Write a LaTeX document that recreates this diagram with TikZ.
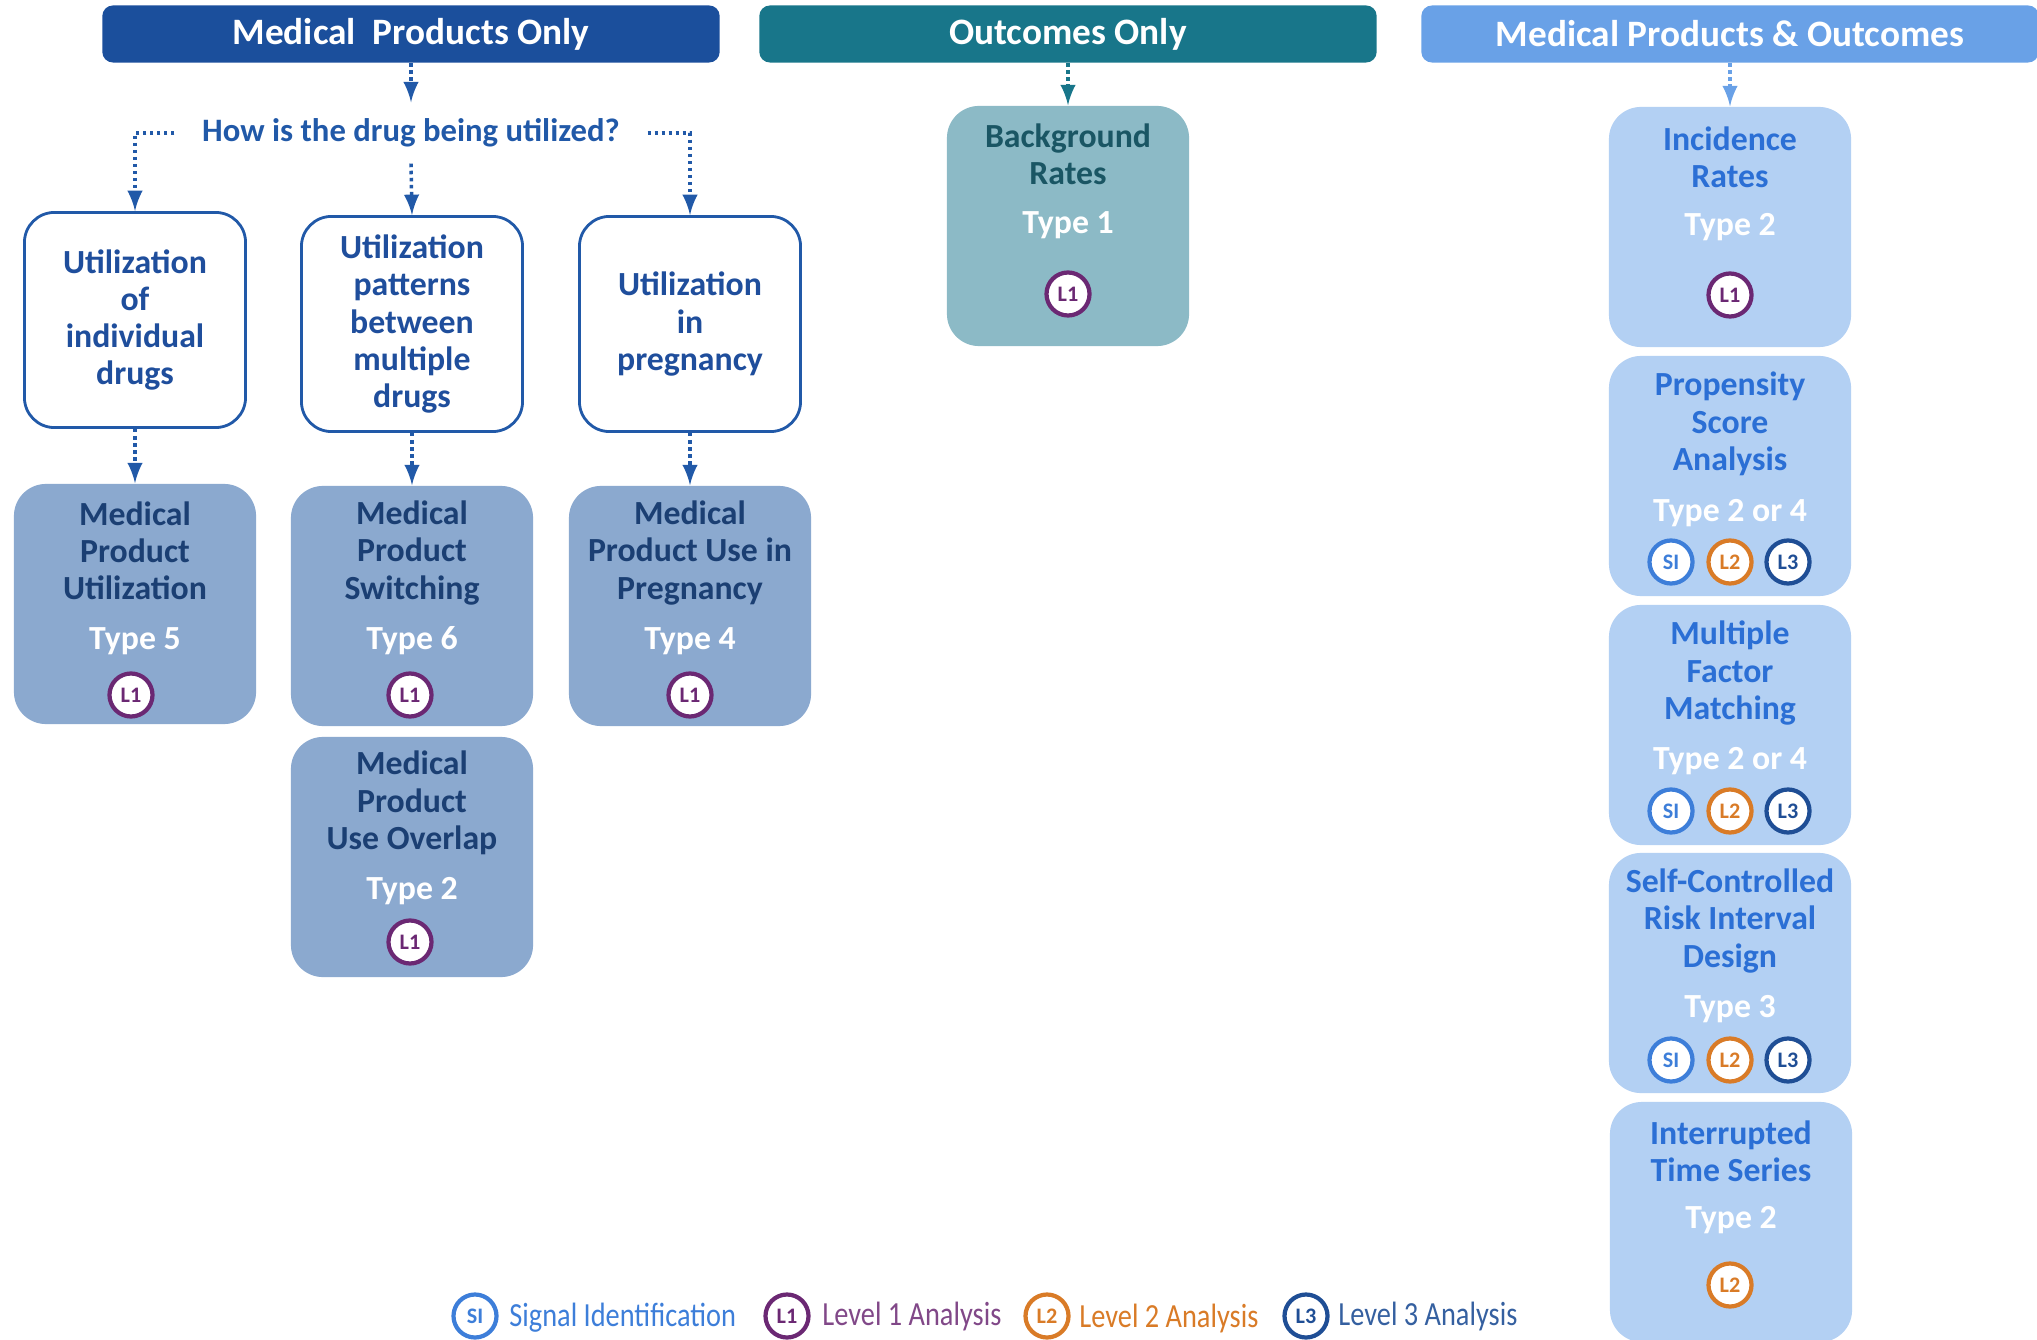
\documentclass[tikz,border=0pt]{standalone}
\usepackage{fontspec}
\setmainfont{Carlito}
\newfontfamily\legfont{Carlito}[FakeStretch=0.84]
\usepackage{xcolor}
\usetikzlibrary{arrows,positioning,shapes,calc}
\definecolor{hdrone}{HTML}{1B4F9C}
\definecolor{hdrtwo}{HTML}{18768A}
\definecolor{hdrthree}{HTML}{69A1E7}
\definecolor{qblue}{HTML}{2159A8}
\definecolor{wtext}{HTML}{1F4E9C}
\definecolor{cfill}{HTML}{8BA9CF}
\definecolor{ctext}{HTML}{1B3F73}
\definecolor{dfill}{HTML}{8CBAC6}
\definecolor{dtext}{HTML}{1A5664}
\definecolor{efill}{HTML}{B3D0F3}
\definecolor{etext}{HTML}{2B6FD5}
\definecolor{sicol}{HTML}{3D7ED9}
\definecolor{lonecol}{HTML}{6B2873}
\definecolor{ltwocol}{HTML}{D97B27}
\definecolor{lthreecol}{HTML}{1F4E95}

\begin{document}
\begin{tikzpicture}[x = 0.01cm, y = -0.01cm, every node/.style={anchor = center},
  hdr/.style={rounded corners = 3pt, minimum width = 6.17cm, minimum height = 0.57cm, text = white, font = \fontsize{10.6}{12}\selectfont\bfseries},
  darr/.style={-latex, densely dotted, line width = 1pt, draw = qblue},
  wbox/.style={draw = qblue, line width = 0.8pt, fill = white, rounded corners = 0.3cm, minimum width = 2.21cm, minimum height = 2.15cm, align = center, text = wtext, font = \fontsize{9.6}{10.6}\selectfont\bfseries},
  tbox/.style={rounded corners = 0.32cm, minimum width = 2.42cm, minimum height = 2.4cm},
  ttl/.style={align = center, font = \fontsize{9.6}{10.6}\selectfont\bfseries},
  typ/.style={text = white, font = \fontsize{9.6}{10.6}\selectfont\bfseries},
  badge/.style={circle, fill = white, line width = 1.2pt, minimum size = 0.43cm, inner sep = 0pt, font = \fontsize{6.3}{6.3}\selectfont\bfseries},
  bsi/.style={badge, draw = sicol, text = sicol},
  bone/.style={badge, draw = lonecol, text = lonecol},
  btwo/.style={badge, draw = ltwocol, text = ltwocol},
  bthree/.style={badge, draw = lthreecol, text = lthreecol},
  leg/.style={anchor = west, font = \legfont\fontsize{9.6}{11}\selectfont}]
\useasboundingbox (0,0) rectangle (2037,1340);

\node[hdr, fill = hdrone] (mpo) at (411,34) {Medical\ \ Products Only};
\node[hdr, fill = hdrtwo] (oo) at (1068,34) {Outcomes Only};
\node[hdr, fill = hdrthree] (mpao) at (1730,34) {Medical Products \& Outcomes};

\node[text = qblue, font = \fontsize{9.3}{11}\selectfont\bfseries, minimum height = 0.6cm, inner xsep = 0.27cm] (how) at (411,133) {How is the drug being utilized?};

\node[wbox] (indiv) at (135,320) {Utilization\\of\\individual\\drugs};
\node[wbox] (multi) at (412,324) {Utilization\\patterns\\between\\multiple\\drugs};
\node[wbox] (preg) at (690,324) {Utilization\\in\\pregnancy};

\node[tbox, fill = cfill] (util) at (135,604) {};
\node[ttl, text = ctext] (utilt) at (135,551) {Medical\\Product\\Utilization};
\node[typ] (utilty) at (135,641) {Type 5};
\node[bone] (utilb) at (131,695) {L1};

\node[tbox, fill = cfill] (switch) at (412,606) {};
\node[ttl, text = ctext] (switcht) at (412,553) {Medical\\Product\\Switching};
\node[typ] (switchty) at (412,641) {Type 6};
\node[bone] (switchb) at (410,695) {L1};

\node[tbox, fill = cfill] (usepreg) at (690,606) {};
\node[ttl, text = ctext] (usepregt) at (690,553) {Medical\\Product Use in\\Pregnancy};
\node[typ] (usepregty) at (690,641) {Type 4};
\node[bone] (usepregb) at (690,695) {L1};

\node[tbox, fill = cfill] (overlap) at (412,857) {};
\node[ttl, text = ctext] (overlapt) at (412,803) {Medical\\Product\\Use Overlap};
\node[typ] (overlapty) at (412,891) {Type 2};
\node[bone] (overlapb) at (410,942) {L1};

\node[tbox, fill = dfill] (bg) at (1068,226) {};
\node[ttl, text = dtext] (bgt) at (1068,154) {Background\\Rates};
\node[typ] (bgty) at (1068,225) {Type 1};
\node[bone] (bgb) at (1068,294) {L1};

\node[tbox, fill = efill] (inc) at (1730,227) {};
\node[ttl, text = etext] (inct) at (1730,157) {Incidence\\Rates};
\node[typ] (incty) at (1730,227) {Type 2};
\node[bone] (incb) at (1730,295) {L1};

\node[tbox, fill = efill] (prop) at (1730,476) {};
\node[ttl, text = etext] (propt) at (1730,424) {Propensity\\Score\\Analysis};
\node[typ] (propty) at (1730,513) {Type 2 or 4};
\node[bsi] (propsi) at (1671,562) {SI};
\node[btwo] (proptwo) at (1730,562) {L2};
\node[bthree] (propthree) at (1788,562) {L3};

\node[tbox, fill = efill] (mfm) at (1730,725) {};
\node[ttl, text = etext] (mfmt) at (1730,673) {Multiple\\Factor\\Matching};
\node[typ] (mfmty) at (1730,761) {Type 2 or 4};
\node[bsi] (mfmsi) at (1671,811) {SI};
\node[btwo] (mfmtwo) at (1730,811) {L2};
\node[bthree] (mfmthree) at (1788,811) {L3};

\node[tbox, fill = efill] (scri) at (1730,973) {};
\node[ttl, text = etext] (scrit) at (1730,921) {Self-Controlled\\Risk Interval\\Design};
\node[typ] (scrity) at (1730,1009) {Type 3};
\node[bsi] (scrisi) at (1671,1060) {SI};
\node[btwo] (scritwo) at (1730,1060) {L2};
\node[bthree] (scrithree) at (1788,1060) {L3};

\node[tbox, fill = efill] (its) at (1731,1222) {};
\node[ttl, text = etext] (itst) at (1731,1151) {Interrupted\\Time Series};
\node[typ] (itsty) at (1731,1220) {Type 2};
\node[btwo] (itsb) at (1730,1285) {L2};

\draw[darr] (mpo.south) -- (how.north);
\draw[darr] (how.west) -| (indiv.north);
\draw[darr] (how.south) -- (multi.north);
\draw[darr] (how.east) -| (preg.north);
\draw[darr] (indiv) -- (util);
\draw[darr] (multi) -- (switch);
\draw[darr] (preg) -- (usepreg);
\draw[darr, draw = hdrtwo] (oo) -- (bg);
\draw[darr, draw = hdrthree] (mpao) -- (inc);

% legend
\node[bsi] (lsi) at (475,1316) {SI};
\node[leg, text = sicol] (lsit) at (497,1318) {Signal Identification};
\node[bone] (lone) at (787,1316) {L1};
\node[leg, text = lonecol!85!white] (lonet) at (810,1316) {Level 1 Analysis};
\node[btwo] (ltwo) at (1047,1316) {L2};
\node[leg, text = ltwocol] (ltwot) at (1067,1318) {Level 2 Analysis};
\node[bthree] (lthree) at (1306,1316) {L3};
\node[leg, text = lthreecol!90!white] (lthreet) at (1326,1316) {Level 3 Analysis};
\end{tikzpicture}
\end{document}
